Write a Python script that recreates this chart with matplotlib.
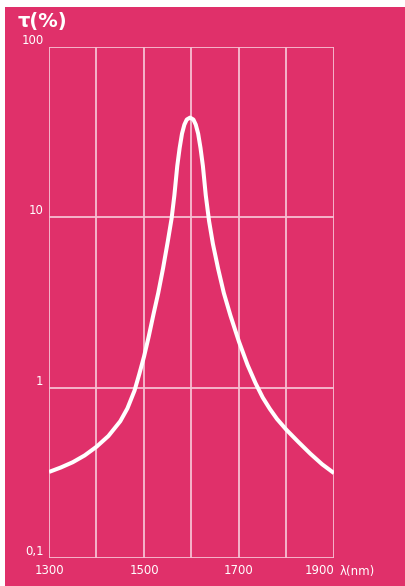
import matplotlib.pyplot as plt
from matplotlib.patches import Rectangle

# Wavelength (nm) and transmission (%)
wavelength = [1300, 1325, 1350, 1375, 1400, 1425, 1450, 1465, 1480, 1490,
              1500, 1510, 1520, 1530, 1540, 1550, 1558, 1564, 1570, 1575,
              1580, 1585, 1590, 1597, 1604, 1609, 1614, 1619, 1624, 1630,
              1637, 1645, 1656, 1668, 1682, 1700, 1718, 1735, 1750, 1765,
              1780, 1800, 1825, 1850, 1875, 1900]
transmission = [0.32, 0.34, 0.365, 0.40, 0.45, 0.52, 0.635, 0.755, 0.96, 1.2,
                1.52, 2.0, 2.7, 3.6, 5.0, 7.2, 9.8, 13.5, 20, 25.5,
                31, 35, 37.5, 38.5, 37.5, 35, 31, 25.5, 20, 13.5,
                9.5, 7.0, 5.0, 3.6, 2.65, 1.86, 1.36, 1.06, 0.875, 0.75,
                0.655, 0.565, 0.48, 0.41, 0.355, 0.315]

x_grid = [1300, 1400, 1500, 1600, 1700, 1800, 1900]
x_labels = ["1300", "", "1500", "", "1700", "", "1900"]
y_ticks = [0.1, 1, 10, 100]
y_labels = ["0,1", "1", "10", "100"]

bg = "#E0306A"
grid_col = "#F7BED2"

W, H = 406, 586
fig = plt.figure(figsize=(W / 100, H / 100), dpi=100, facecolor="white")
# pink page with a thin white strip on the top and left
fig.patches.append(Rectangle((5 / W, 0), 1, (H - 7) / H, transform=fig.transFigure,
                             facecolor=bg, edgecolor="none", zorder=-5))

ax = fig.add_axes([49 / W, (H - 558) / H, (334 - 49) / W, (558 - 47) / H])
ax.set_zorder(2)
ax.set_facecolor(bg)
ax.set_yscale("log")
ax.set_xlim(1300, 1900)
ax.set_ylim(0.1, 100)

# grid
for x in x_grid:
    ax.axvline(x, color=grid_col, lw=1.3, zorder=1)
for y in y_ticks:
    ax.axhline(y, color=grid_col, lw=1.3, zorder=1)
for s in ax.spines.values():
    s.set_visible(False)

ax.plot(wavelength, transmission, color="white", lw=2.9,
        solid_joinstyle="round", solid_capstyle="butt", zorder=3)

ax.set_xticks(x_grid)
ax.set_xticklabels(x_labels)
ax.set_yticks(y_ticks)
ax.set_yticklabels(y_labels)
ax.minorticks_off()
ax.tick_params(length=0, colors="white", labelsize=8.5, pad=4)
for lab in ax.get_yticklabels():
    lab.set_va("bottom")
ax.get_xticklabels()[-1].set_ha("right")

fig.text(340 / W, 1 - 571 / H, "λ(nm)", color="white", fontsize=8.5,
         ha="left", va="center")
fig.text(18 / W, 1 - 21 / H, "τ(%)", color="white", fontsize=14,
         fontweight="bold", ha="left", va="center")

fig.savefig("out.png", dpi=100, facecolor=fig.get_facecolor())
